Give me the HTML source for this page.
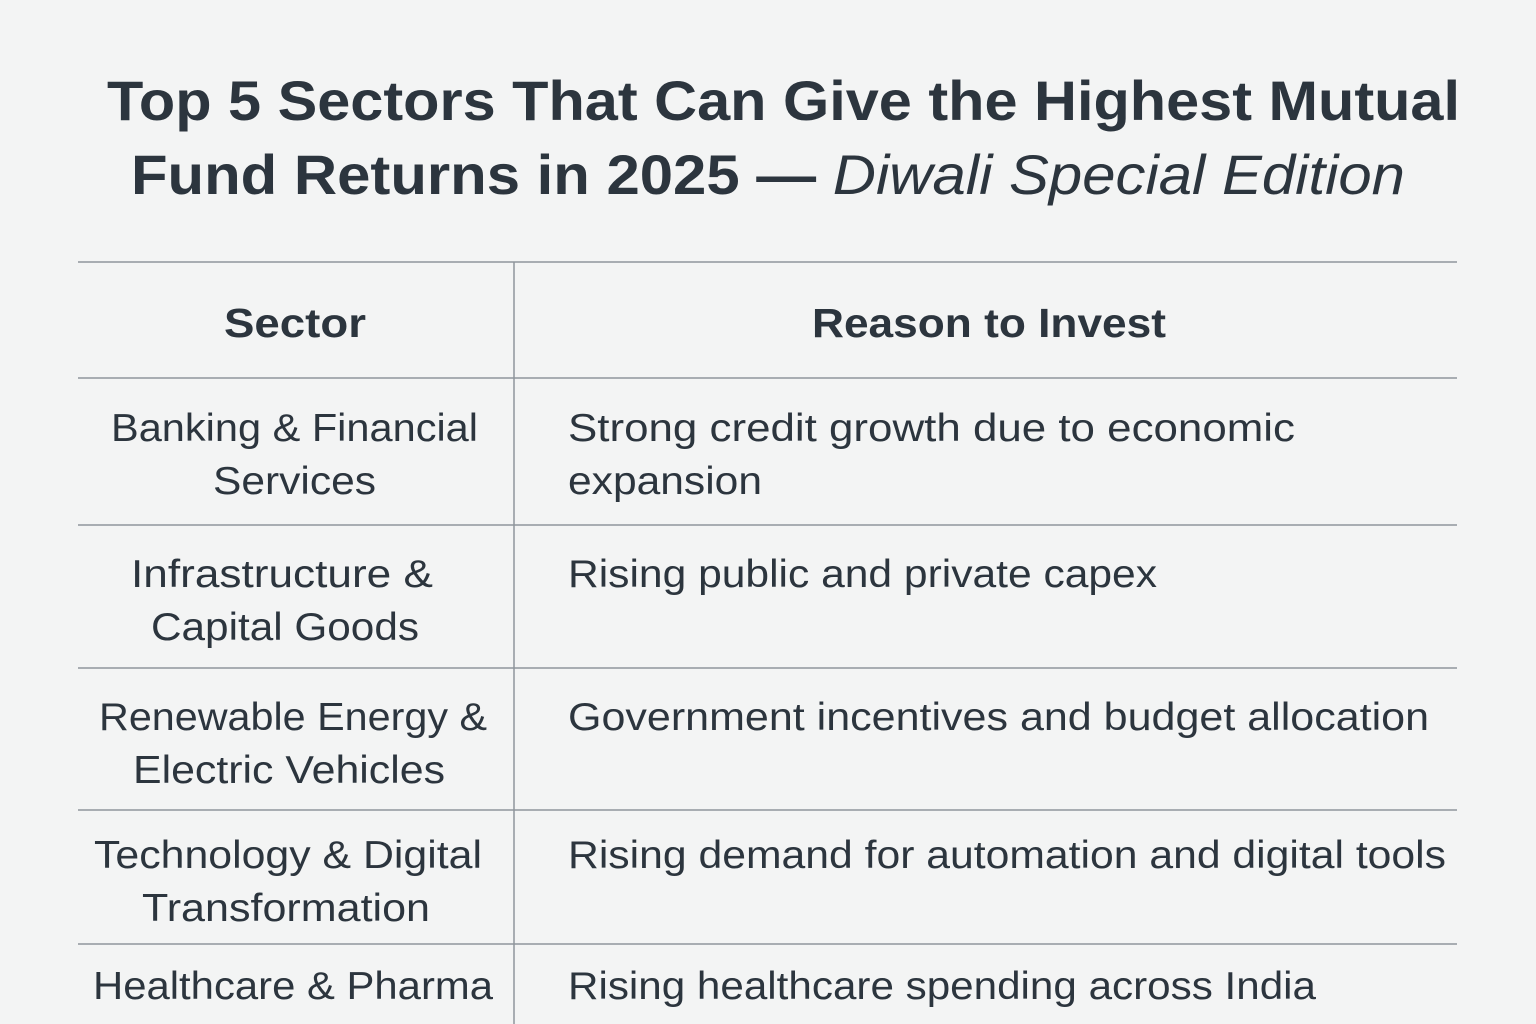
<!DOCTYPE html>
<html><head><meta charset="utf-8"><style>
html,body{margin:0;padding:0;background:#f3f4f4;}
svg{display:block}
text{font-family:"Liberation Sans",sans-serif;fill:#2c353e}
.t{font-size:56px;font-weight:bold}
.h{font-size:41px;font-weight:bold}
.b{font-size:39px}
</style></head><body>
<svg width="1536" height="1024" viewBox="0 0 1536 1024" xmlns="http://www.w3.org/2000/svg">
<rect width="1536" height="1024" fill="#f3f4f4"/>
<text class="t" x="107" y="120" textLength="1353" lengthAdjust="spacingAndGlyphs">Top 5 Sectors That Can Give the Highest Mutual</text>
<text class="t" x="131" y="194" textLength="1274" lengthAdjust="spacingAndGlyphs">Fund Returns in 2025 — <tspan font-style="italic" font-weight="normal">Diwali Special Edition</tspan></text>
<g stroke="#8f959b" stroke-width="1.5">
<line x1="78" y1="262" x2="1457" y2="262"/>
<line x1="78" y1="378" x2="1457" y2="378"/>
<line x1="78" y1="525" x2="1457" y2="525"/>
<line x1="78" y1="668" x2="1457" y2="668"/>
<line x1="78" y1="810" x2="1457" y2="810"/>
<line x1="78" y1="944" x2="1457" y2="944"/>
<line x1="514" y1="262" x2="514" y2="1024"/>
</g>
<text class="h" x="224" y="337" textLength="142" lengthAdjust="spacingAndGlyphs">Sector</text>
<text class="h" x="812" y="337" textLength="354" lengthAdjust="spacingAndGlyphs">Reason to Invest</text>
<g class="b">
<text class="b" x="111" y="441" textLength="367" lengthAdjust="spacingAndGlyphs">Banking &amp; Financial</text>
<text class="b" x="213" y="494" textLength="163" lengthAdjust="spacingAndGlyphs">Services</text>
<text class="b" x="131" y="587" textLength="302" lengthAdjust="spacingAndGlyphs">Infrastructure &amp;</text>
<text class="b" x="151" y="640" textLength="268" lengthAdjust="spacingAndGlyphs">Capital Goods</text>
<text class="b" x="99" y="730" textLength="388" lengthAdjust="spacingAndGlyphs">Renewable Energy &amp;</text>
<text class="b" x="133" y="783" textLength="312" lengthAdjust="spacingAndGlyphs">Electric Vehicles</text>
<text class="b" x="94" y="868" textLength="388" lengthAdjust="spacingAndGlyphs">Technology &amp; Digital</text>
<text class="b" x="142" y="921" textLength="288" lengthAdjust="spacingAndGlyphs">Transformation</text>
<text class="b" x="93" y="999" textLength="400" lengthAdjust="spacingAndGlyphs">Healthcare &amp; Pharma</text>
<text class="b" x="568" y="441" textLength="727" lengthAdjust="spacingAndGlyphs">Strong credit growth due to economic</text>
<text class="b" x="568" y="494" textLength="194" lengthAdjust="spacingAndGlyphs">expansion</text>
<text class="b" x="568" y="587" textLength="589" lengthAdjust="spacingAndGlyphs">Rising public and private capex</text>
<text class="b" x="568" y="730" textLength="861" lengthAdjust="spacingAndGlyphs">Government incentives and budget allocation</text>
<text class="b" x="568" y="868" textLength="878" lengthAdjust="spacingAndGlyphs">Rising demand for automation and digital tools</text>
<text class="b" x="568" y="999" textLength="748" lengthAdjust="spacingAndGlyphs">Rising healthcare spending across India</text>
</g>
</svg>
</body></html>
